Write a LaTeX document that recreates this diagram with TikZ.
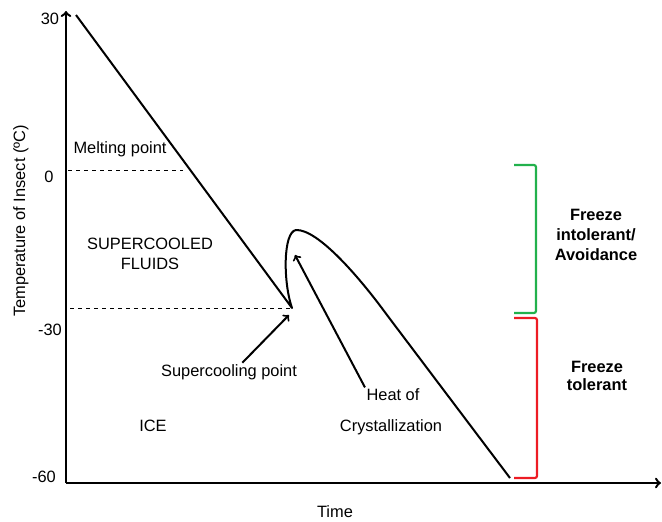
\documentclass[tikz,border=0pt]{standalone}
\usepackage{fontspec}
\setmainfont{Liberation Sans}
\usetikzlibrary{positioning}

\definecolor{avoidgreen}{RGB}{34,177,76}
\definecolor{tolerred}{RGB}{237,28,36}

\tikzset{
    axis/.style={->, line width=1.8pt},
    trace/.style={line width=1.5pt, line join=round},
    pointer/.style={->, line width=1.5pt},
    label/.style={inner sep=1pt, font=\fontsize{12.3}{15}\selectfont},
    group/.style={inner sep=1pt, align=center, font=\fontsize{12.3}{15}\selectfont\bfseries},
    bracket/.style={line width=1.6pt, rounded corners=1.5pt},
}

\begin{document}
\begin{tikzpicture}[x=0.75pt, y=-0.75pt]
    \useasboundingbox (0,0) rectangle (662,522);

    %% Axes
    \coordinate (origin) at (66,483);
    \coordinate (ytop) at (66,11);
    \coordinate (xend) at (661,483);
    \draw[axis] (origin) -- (ytop);
    \draw[axis] (origin) -- (xend);

    % Tick labels
    \node[label] (t30) at (50,19) {30};
    \node[label] (t0) at (49,177) {0};
    \node[label] (tm30) at (50,330) {-30};
    \node[label] (tm60) at (44,477) {-60};

    % Axis titles
    \node[label, rotate=90] (ytitle) at (21,221) {Temperature of Insect (ºC)};
    \node[label] (xtitle) at (335,512) {Time};

    %% Cooling trace
    \coordinate (start) at (76,15);
    \coordinate (scp) at (292,308);
    \coordinate (peak) at (296,230);
    \coordinate (bend) at (387,315);
    \coordinate (end) at (510,478);
    \draw[trace] (start) -- (scp)
        .. controls (283,282) and (283,232) .. (peak)
        .. controls (318,229) and (360,278) .. (bend) -- (end);

    % Melting point and supercooling point levels
    \coordinate (melt) at (68,170);
    \coordinate (meltend) at (183,170);
    \coordinate (scplevel) at (70,308);
    \draw[dashed, semithick] (melt) -- (meltend);
    \draw[dashed, semithick] (scplevel) -- (scp);

    %% Region labels
    \node[label] (meltlabel) at (120,149) {Melting point};
    \node[label, align=center] (fluids) at (150,254) {SUPERCOOLED\\FLUIDS};
    \node[label] (ice) at (153,426) {ICE};

    % Supercooling point
    \node[label] (scplabel) at (229,372) {Supercooling point};
    \coordinate (scptip) at (289,315);
    \draw[pointer] ([xshift=10pt]scplabel.north) -- (scptip);

    % Heat of crystallization
    \node[label] (heat) at (393,395) {Heat of};
    \node[label] (cryst) at (391,427) {Crystallization};
    \coordinate (heattip) at (295,255);
    \draw[pointer] (heat.north west) -- (heattip);

    %% Strategy brackets
    \draw[bracket, avoidgreen] (514,165) -- (536,165) -- (536,313) -- (514,313);
    \draw[bracket, tolerred] (514,318) -- (537,318) -- (537,478) -- (514,478);
    \node[group] (avoid) at (596,235) {Freeze\\intolerant/\\Avoidance};
    \node[group, font=\fontsize{12.3}{13.5}\selectfont\bfseries] (tolerant) at (597,376) {Freeze\\tolerant};

\end{tikzpicture}
\end{document}
